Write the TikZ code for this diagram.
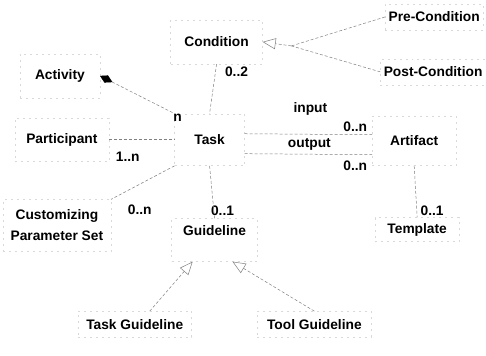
\documentclass[tikz,border=0pt]{standalone}
\usepackage{fontspec}
\setmainfont{Liberation Sans}
\usetikzlibrary{arrows.meta}

\begin{document}
\begin{tikzpicture}[
    x=1pt, y=-1pt,
    every node/.style={font=\fontsize{13.8}{21}\selectfont\bfseries},
    cls/.style={draw=black!15, dash pattern=on 2pt off 4pt, align=center,
                minimum width=86pt, minimum height=40pt},
    mult/.style={inner sep=1pt},
    conn/.style={draw=black!50, dash pattern=on 3pt off 2pt, line width=0.5pt},
    inherit/.style={conn, -{Triangle[open, length=13pt, width=11pt]}},
    whole/.style={conn, {Diamond[length=14pt, width=8pt, fill=black, color=black]}-}
]
    \fill[white] (0,0) rectangle (486,356);

    % Classes
    \node[cls, minimum width=80pt, minimum height=44pt] (activity) at (60,76) {Activity};
    \node[cls, minimum width=92pt, minimum height=44pt] (condition) at (217,42) {Condition};
    \node[cls, minimum width=98pt, minimum height=26pt] (precond) at (435,17) {Pre-Condition};
    \node[cls, minimum width=100pt, minimum height=26pt] (postcond) at (434,72) {Post-Condition};
    \node[cls, minimum width=70pt, minimum height=52pt] (task) at (210,140) {Task};
    \node[cls, minimum width=94pt, minimum height=44pt] (participant) at (62,140) {Participant};
    \node[cls, minimum width=84pt, minimum height=50pt] (artifact) at (415,141) {Artifact};
    \node[cls, minimum width=108pt, minimum height=52pt] (custom) at (57,226)
        {Customizing\\Parameter Set};
    \node[cls, minimum width=86pt, minimum height=0pt, inner ysep=0pt, anchor=base,
          text height=17pt, text depth=26pt] (guideline) at (215,236) {Guideline};
    \node[cls, minimum width=84pt, minimum height=24pt] (template) at (418,230) {Template};
    \node[cls, minimum width=114pt, minimum height=26pt] (taskguide) at (135,325) {Task Guideline};
    \node[cls, minimum width=114pt, minimum height=26pt] (toolguide) at (315,325) {Tool Guideline};

    % Multiplicities and roles
    \node[mult] (mactivity) at (178,118) {n};
    \node[mult] (mcondition) at (237,72) {0..2};
    \node[mult] (mparticipant) at (128,157) {1..n};
    \node[mult] (mcustom) at (140,210) {0..n};
    \node[mult] (mguideline) at (223,211) {0..1};
    \node[mult] (minput) at (356,127) {0..n};
    \node[mult] (moutput) at (356,166) {0..n};
    \node[mult] (mtemplate) at (433,211) {0..1};
    \node (input) at (311,109) {input};
    \node (output) at (310,145) {output};

    % Associations
    \draw[whole] (activity.east) -- (task.north west);
    \draw[conn] (condition.south) -- (task.north);
    \draw[conn] (participant.east) -- (task.west);
    \draw[conn] (task.south west) -- (custom.north east);
    \draw[conn] (task.south) -- (guideline.north);
    \draw[conn] ([yshift=6pt]task.east) -- ([yshift=6pt]artifact.west);
    \draw[conn] ([yshift=-14pt]task.east) -- ([yshift=-14pt]artifact.west);
    \draw[conn] (artifact.south) -- (template.north);

    % Generalizations
    \coordinate (gencond) at (292,46);
    \draw[conn] (precond.west) -- (gencond);
    \draw[conn] (postcond.west) -- (gencond);
    \draw[inherit] (gencond) -- (condition.east);
    \draw[inherit] ([xshift=15pt]taskguide.north) -- ([xshift=-22pt]guideline.south);
    \draw[inherit] (toolguide.north) -- ([xshift=18pt]guideline.south);
\end{tikzpicture}
\end{document}
